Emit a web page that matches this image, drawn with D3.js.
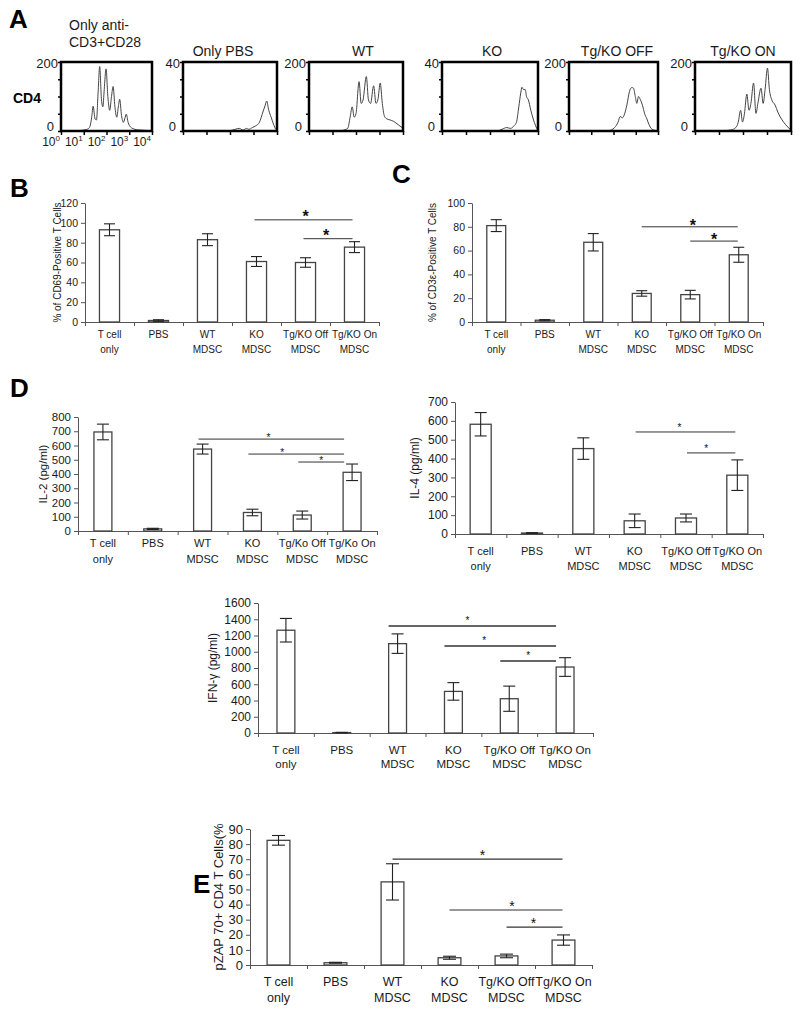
<!DOCTYPE html>
<html><head><meta charset="utf-8">
<script src="https://cdn.jsdelivr.net/npm/d3@7"></script>
<style>body{margin:0;background:#fff}svg{display:block}</style>
</head><body><svg id="c" width="800" height="1011"></svg>
<script>
// ---------- DATA ----------
// Panel A histograms: [log10 decade, count]
const histTitles = ["Only PBS","WT","KO","Tg/KO OFF","Tg/KO ON"];
const histTitleFirst = ["Only anti-","CD3+CD28"];
const histMax = [200,40,200,40,200,200];
const histDecadeLabels = ["0","1","2","3","4"];
const hist1 = [[0,0],[0.6,0],[0.9,2],[1.1,4],[1.25,10],[1.35,40],[1.41,72],[1.5,35],[1.56,32],[1.63,110],[1.70,187],[1.78,90],[1.84,70],[1.90,120],[1.98,180],[2.06,100],[2.14,60],[2.22,100],[2.29,129],[2.37,70],[2.45,40],[2.52,70],[2.58,92],[2.66,45],[2.74,25],[2.80,35],[2.87,49],[2.95,25],[3.05,12],[3.2,6],[3.4,3],[3.7,2],[4,0]];
const hist2 = [[0,0],[1.9,0],[2.1,0.5],[2.4,1.5],[2.55,0.5],[2.7,1.5],[2.8,1],[2.95,2],[3.1,3],[3.25,5],[3.4,11],[3.5,15],[3.56,17.4],[3.65,12],[3.75,8],[3.85,4],[3.95,1],[4,0.5]];
const hist3 = [[0,0],[1.3,0],[1.5,3],[1.65,8],[1.75,40],[1.84,70],[1.92,40],[2.0,50],[2.13,143],[2.22,80],[2.3,90],[2.44,158],[2.53,90],[2.62,80],[2.75,131],[2.85,80],[2.93,90],[3.03,139],[3.12,80],[3.2,45],[3.29,36],[3.45,32],[3.6,28],[3.8,18],[4,8]];
const hist4 = [[0,0],[2.3,0],[2.5,1],[2.7,2],[2.85,1.5],[3.0,3],[3.1,5],[3.2,14],[3.28,22],[3.33,25.4],[3.4,24],[3.47,24],[3.52,20],[3.6,18],[3.7,12],[3.8,7],[3.9,3],[4,0]];
const hist5 = [[0,0],[1.7,0],[1.9,3],[2.05,10],[2.2,25],[2.3,42],[2.4,38],[2.5,50],[2.6,75],[2.72,115],[2.82,126],[2.9,124],[2.98,100],[3.05,80],[3.12,100],[3.2,92],[3.3,75],[3.4,50],[3.5,35],[3.6,18],[3.7,7],[3.85,2],[4,0]];
const hist6 = [[0,0],[0.8,0],[1.2,1],[1.5,3],[1.7,10],[1.8,25],[1.9,60],[1.98,26],[2.06,50],[2.16,107],[2.25,60],[2.33,80],[2.44,139],[2.54,51],[2.62,80],[2.75,124],[2.84,80],[2.92,120],[3.02,182],[3.1,120],[3.2,90],[3.34,75],[3.45,55],[3.55,41],[3.7,25],[3.83,14],[4,3]];

// Bar panels
const catTop = ["T cell","PBS","WT","KO","Tg/KO Off","Tg/KO On"];
const catTopIL2 = ["T cell","PBS","WT","KO","Tg/Ko Off","Tg/Ko On"];
const catBottom = ["only","","MDSC","MDSC","MDSC","MDSC"];

const cd69Mean = [93,1.5,83,61,60,75.5];
const cd69Err  = [6,0.8,6,5,4.8,5.5];
const cd69Sig  = [[3,5,103],[4,5,84]];

const cd3Mean = [81,1.5,67,24,23,56.5];
const cd3Err  = [5,0.5,7.3,2.3,3.6,6.3];
const cd3Sig  = [[3,5,80],[4,5,68]];

const il2Mean = [695,15,575,130,112,412];
const il2Err  = [55,4,35,23,28,58];
const il2Sig  = [[2,5,645],[3,5,540],[4,5,484]];

const il4Mean = [582,5,453,70,85,312];
const il4Err  = [62,2,57,36,21,81];
const il4Sig  = [[3,5,541],[4,5,430]];

const ifnMean = [1265,5,1100,512,422,812];
const ifnErr  = [145,3,120,108,155,115];
const ifnSig  = [[2,5,1317],[3,5,1071],[4,5,886]];

const zapMean = [82.5,1.5,55,4.8,6,16.5];
const zapErr  = [3.2,0.3,12,1,1.2,3.4];
const zapSig  = [[2,5,70.1],[3,5,36.4],[4,5,25.1]];

// ---------- DRAW ----------
const FONT = "Arial, 'Liberation Sans', Helvetica, sans-serif";
const TXT = "#1a1a1a", AX = "#555", BAR = "#444", SIG = "#333";
const svg = d3.select("#c").attr("font-family", FONT);

// panel letters
[["A",9,28],["B",10,197],["C",392,183],["D",10,397],["E",193,893]].forEach(l=>{
  svg.append("text").attr("x",l[1]).attr("y",l[2]).text(l[0])
    .attr("font-size",26).attr("font-weight","bold").attr("fill","#000");
});

// ---- Panel A ----
const hists = [hist1,hist2,hist3,hist4,hist5,hist6];
const boxes = [[61,152],[183,277],[309,403],[442,538],[569,658],[695,791]];
const titleX = [null,223,363,492,617,743];
const boxTop = 62, boxBot = 131;
svg.append("text").attr("x",13).attr("y",103).text("CD4").attr("font-size",14).attr("font-weight","bold").attr("fill","#000");
svg.append("text").attr("x",69).attr("y",30).text(histTitleFirst[0]).attr("font-size",14).attr("fill",TXT);
svg.append("text").attr("x",69).attr("y",47).text(histTitleFirst[1]).attr("font-size",14).attr("fill",TXT);
hists.forEach((h,i)=>{
  const [x0,x1] = boxes[i];
  const x = d3.scaleLinear().domain([0,4]).range([x0,x1]);
  const y = d3.scaleLinear().domain([0,histMax[i]]).range([boxBot,boxTop]);
  const g = svg.append("g");
  const la = g.append("g").attr("transform",`translate(${x0},0)`)
    .call(d3.axisLeft(y).ticks(5).tickSize(3).tickFormat(""));
  la.select(".domain").remove();
  la.selectAll("line").attr("stroke","#000").attr("stroke-width",1.5);
  const ba = g.append("g").attr("transform",`translate(0,${boxBot})`)
    .call(d3.axisBottom(x).tickValues([0,1,2,3,4]).tickSize(4).tickFormat(""));
  ba.select(".domain").remove();
  ba.selectAll("line").attr("stroke","#000").attr("stroke-width",1.5);
  g.append("path").datum(h)
    .attr("d", d3.line().x(d=>x(d[0])).y(d=>y(d[1])).curve(d3.curveMonotoneX))
    .attr("fill","none").attr("stroke","#444").attr("stroke-width",1);
  g.append("rect").attr("x",x0).attr("y",boxTop).attr("width",x1-x0).attr("height",boxBot-boxTop)
    .attr("fill","none").attr("stroke","#000").attr("stroke-width",2.5);
  g.append("text").attr("x",x0-3).attr("y",boxTop+6).attr("text-anchor","end")
    .attr("font-size",13).attr("fill",TXT).text(histMax[i]);
  g.append("text").attr("x",x0-7).attr("y",boxBot).attr("text-anchor","end")
    .attr("font-size",13).attr("fill",TXT).text("0");
  if (i>0) {
    g.append("text").attr("x",titleX[i]).attr("y",56).attr("text-anchor","middle")
      .attr("font-size",14).attr("fill",TXT).text(histTitles[i-1]);
  } else {
    histDecadeLabels.forEach((s,k)=>{
      const t = g.append("text").attr("x",x(k)-1).attr("y",146).attr("text-anchor","end")
        .attr("font-size",12).attr("fill",TXT);
      t.append("tspan").text("10");
      t.append("tspan").attr("dy",-5).attr("font-size",8).text(s);
    });
  }
});

// ---- bar panels ----
function barPanel(o){
  const g = svg.append("g");
  const n = o.mean.length;
  const x = d3.scaleBand().domain(d3.range(n)).range([o.left,o.right])
    .paddingInner(1-o.barFrac).paddingOuter((1-o.barFrac)/2);
  const xb = d3.scaleLinear().domain([0,n]).range([o.left,o.right]);
  const y = d3.scaleLinear().domain([0,o.max]).range([o.y0,o.yTop]);
  const ya = g.append("g").attr("transform",`translate(${o.left},0)`)
    .call(d3.axisLeft(y).tickValues(d3.range(0,o.max+o.step/2,o.step)).tickFormat(d3.format("d"))
      .tickSize(4).tickSizeOuter(0).tickPadding(3));
  ya.attr("font-family",FONT).attr("font-size",o.tickFs);
  ya.select(".domain").attr("stroke",AX);
  ya.selectAll(".tick line").attr("stroke",AX);
  ya.selectAll(".tick text").attr("fill",TXT);
  const xa = g.append("g").attr("transform",`translate(0,${o.y0})`)
    .call(d3.axisBottom(xb).tickValues(d3.range(0,n+1)).tickSize(4).tickSizeOuter(0).tickFormat(""));
  xa.select(".domain").attr("stroke",AX);
  xa.selectAll(".tick line").attr("stroke",AX);
  g.selectAll("rect.bar").data(o.mean).join("rect").attr("class","bar")
    .attr("x",(d,i)=>x(i)).attr("width",x.bandwidth())
    .attr("y",d=>y(d)).attr("height",d=>o.y0-y(d))
    .attr("fill","#fff").attr("stroke",BAR).attr("stroke-width",1.3);
  const cap = o.cap;
  o.mean.forEach((m,i)=>{
    const cx = x(i)+x.bandwidth()/2, e = o.err[i];
    const eg = g.append("g").attr("stroke","#222").attr("stroke-width",1.1);
    eg.append("line").attr("x1",cx).attr("x2",cx).attr("y1",y(m-e)).attr("y2",y(m+e));
    eg.append("line").attr("x1",cx-cap/2).attr("x2",cx+cap/2).attr("y1",y(m+e)).attr("y2",y(m+e));
    eg.append("line").attr("x1",cx-cap/2).attr("x2",cx+cap/2).attr("y1",y(m-e)).attr("y2",y(m-e));
  });
  o.cats.forEach((c,i)=>{
    const cx = x(i)+x.bandwidth()/2;
    g.append("text").attr("x",cx).attr("y",o.y0+o.lab1).attr("text-anchor","middle")
      .attr("font-size",o.catFs).attr("fill",TXT).text(c);
    if (catBottom[i]) g.append("text").attr("x",cx).attr("y",o.y0+o.lab2).attr("text-anchor","middle")
      .attr("font-size",o.catFs).attr("fill",TXT).text(catBottom[i]);
  });
  o.sig.forEach((s,k)=>{
    const xa1 = x(s[0])+x.bandwidth()/2+o.sOff[0], xa2 = x(s[1])+x.bandwidth()/2+o.sOff[1];
    const ly = y(s[2]);
    g.append("line").attr("x1",xa1).attr("x2",xa2).attr("y1",ly).attr("y2",ly)
      .attr("stroke",SIG).attr("stroke-width",o.sigW);
    const sx = (xa1+xa2)/2 + (o.starDx ? o.starDx[k] : 0);
    g.append("text").attr("x",sx).attr("y",ly-o.starGap+0.58*o.starFs).attr("text-anchor","middle")
      .attr("font-size",o.starFs).attr("font-weight",o.starBold?"bold":"normal").attr("fill","#111").text("*");
  });
  g.append("text").attr("transform",`translate(${o.ylx},${(o.y0+o.yTop)/2}) rotate(-90)`)
    .attr("text-anchor","middle").attr("dy","0.35em").attr("font-size",o.ylFs).attr("fill",TXT).text(o.ylabel);
}

barPanel({left:85,right:379,y0:322,yTop:203,max:120,step:20,mean:cd69Mean,err:cd69Err,sig:cd69Sig,
  cats:catTop,barFrac:0.41,cap:11,tickFs:10.5,catFs:10,lab1:16,lab2:31,sOff:[-2,-2],sigW:1,
  starFs:16,starBold:true,starGap:7,starDx:[2,-2],ylx:57,ylFs:10,ylabel:"% of CD69-Positive T Cells"});
barPanel({left:472,right:763,y0:322,yTop:203,max:100,step:20,mean:cd3Mean,err:cd3Err,sig:cd3Sig,
  cats:catTop,barFrac:0.39,cap:11,tickFs:10.5,catFs:10,lab1:16,lab2:31,sOff:[0,-1],sigW:1,
  starFs:16,starBold:true,starGap:5,starDx:[3,0],ylx:432,ylFs:10,ylabel:"% of CD3ε-Positive T Cells"});
barPanel({left:78,right:377,y0:531,yTop:417,max:800,step:100,mean:il2Mean,err:il2Err,sig:il2Sig,
  cats:catTopIL2,barFrac:0.36,cap:12,tickFs:11.5,catFs:11,lab1:16,lab2:32,sOff:[-4,-8],sigW:1,
  starFs:10,starBold:false,starGap:4,starDx:[-3,-14,0],ylx:43,ylFs:11.5,ylabel:"IL-2  (pg/ml)"});
barPanel({left:455,right:763,y0:534,yTop:402,max:700,step:100,mean:il4Mean,err:il4Err,sig:il4Sig,
  cats:catTop,barFrac:0.41,cap:12,tickFs:12,catFs:11,lab1:21,lab2:36,sOff:[1,-2],sigW:1,
  starFs:10,starBold:false,starGap:7,starDx:[-6,-5],ylx:415,ylFs:12,ylabel:"IL-4 (pg/ml)"});
barPanel({left:258,right:593,y0:733,yTop:603,max:1600,step:200,mean:ifnMean,err:ifnErr,sig:ifnSig,
  cats:catTop,barFrac:0.32,cap:12,tickFs:12,catFs:11.5,lab1:21,lab2:35,sOff:[-9,-9],sigW:1.3,
  starFs:10,starBold:false,starGap:8,starDx:[-5,-16,0],ylx:213,ylFs:12,ylabel:"IFN-γ (pg/ml)"});
barPanel({left:250,right:592,y0:965,yTop:829,max:90,step:10,mean:zapMean,err:zapErr,sig:zapSig,
  cats:catTop,barFrac:0.40,cap:13,tickFs:13,catFs:12.5,lab1:21,lab2:37,sOff:[0,-1],sigW:1.2,
  starFs:14,starBold:false,starGap:7,starDx:[5,6,-1],ylx:218,ylFs:13,ylabel:"pZAP 70+ CD4 T Cells(%"});
</script></body></html>
